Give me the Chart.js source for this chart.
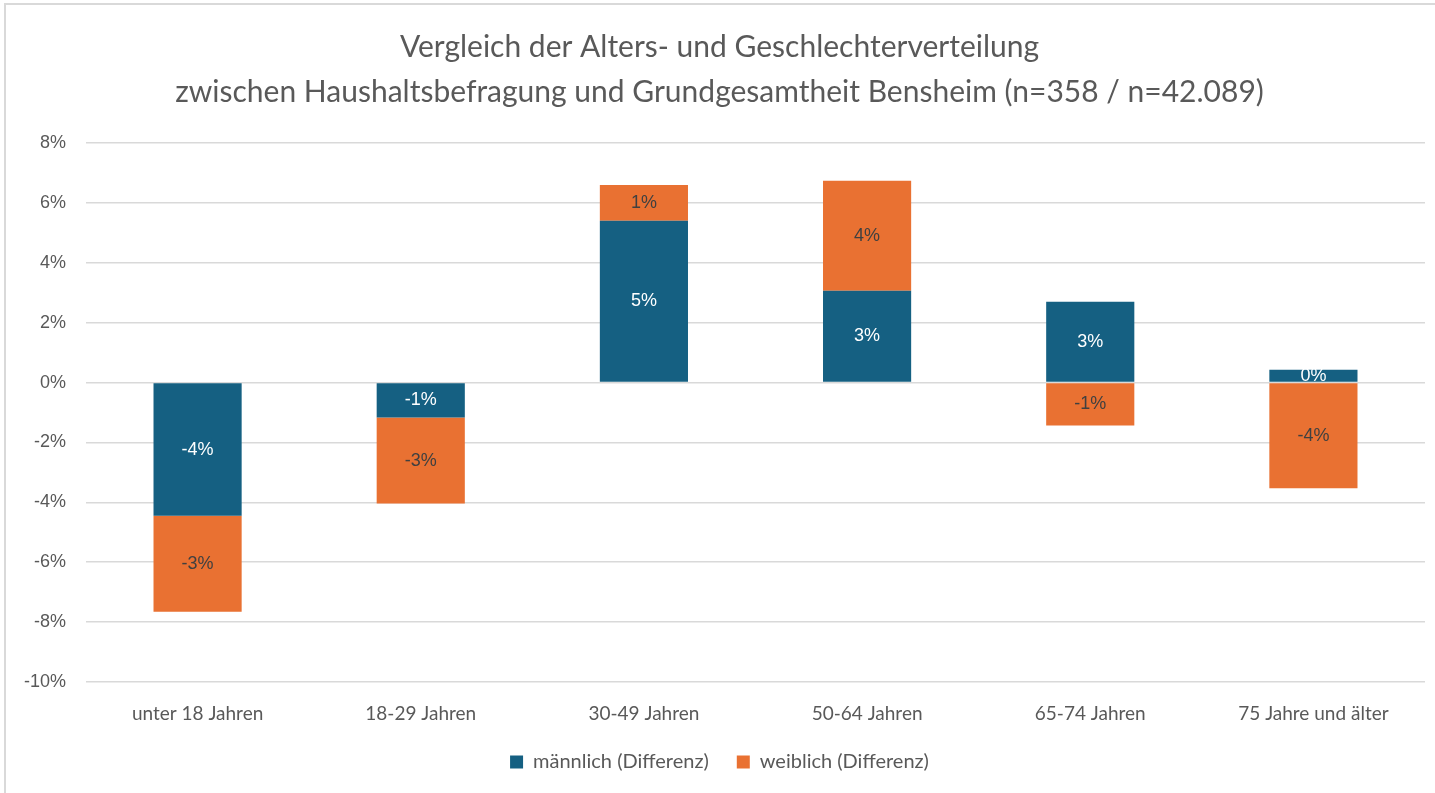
<!DOCTYPE html>
<html>
<head>
<meta charset="utf-8">
<script src="https://cdn.jsdelivr.net/npm/chart.js@4.4.1/dist/chart.umd.min.js"></script>
<style>
  html, body { margin: 0; padding: 0; background: #fff; }
  #wrap { position: relative; width: 1435px; height: 793px; }
  #frame { position: absolute; left: 4px; top: 3px; width: 1440px; height: 800px; border-left: 2px solid #d9d9d9; border-top: 2px solid #d9d9d9; }
  canvas { position: absolute; left: 0; top: 0; }
</style>
</head>
<body>
<div id="wrap">
  <div id="frame"></div>
  <canvas id="chart" width="1435" height="793"></canvas>
</div>
<script>
const categories = ["unter 18 Jahren", "18-29 Jahren", "30-49 Jahren", "50-64 Jahren", "65-74 Jahren", "75 Jahre und älter"];
const maleDiff = [-4.45, -1.17, 5.4, 3.07, 2.7, 0.43];
const femaleDiff = [-3.2, -2.87, 1.2, 3.67, -1.43, -3.53];
const seriesNames = ["männlich (Differenz)", "weiblich (Differenz)"];
const titleLines = ["Vergleich der Alters- und Geschlechterverteilung", "zwischen Haushaltsbefragung und Grundgesamtheit Bensheim (n=358 / n=42.089)"];

const FONT = "Lato, 'Open Sans', sans-serif";
const NUMFONT = "'Liberation Sans', Arial, sans-serif";

// value labels in the middle of each bar segment
const barLabels = {
    id: "barLabels",
    afterDatasetsDraw(chart) {
        const ctx = chart.ctx;
        ctx.save();
        ctx.font = "18px " + NUMFONT;
        ctx.textAlign = "center";
        ctx.textBaseline = "middle";
        chart.data.datasets.forEach((ds, i) => {
            const meta = chart.getDatasetMeta(i);
            ctx.fillStyle = i === 0 ? "#ffffff" : "#404040";
            meta.data.forEach((bar, j) => {
                const v = ds.data[j];
                const yMid = (bar.y + bar.base) / 2;
                ctx.fillText(Math.round(v) + "%", bar.x, yMid);
            });
        });
        ctx.restore();
    }
};

new Chart(document.getElementById("chart"), {
    type: "bar",
    data: {
        labels: categories,
        datasets: [
            { label: seriesNames[0], data: maleDiff, backgroundColor: "#156082" },
            { label: seriesNames[1], data: femaleDiff, backgroundColor: "#E97132" }
        ]
    },
    options: {
        responsive: false,
        animation: false,
        barPercentage: 0.395,
        categoryPercentage: 1,
        layout: { padding: { left: 14, right: 10, top: 0, bottom: 11 } },
        plugins: {
            title: {
                display: true,
                text: titleLines,
                color: "#595959",
                font: { family: FONT, size: 30, weight: "normal", lineHeight: 1.5 },
                padding: { top: 25, bottom: 28 }
            },
            legend: {
                position: "bottom",
                labels: {
                    color: "#595959",
                    font: { family: FONT, size: 20 },
                    boxWidth: 13,
                    boxHeight: 13,
                    padding: 28
                }
            },
            tooltip: { enabled: false }
        },
        scales: {
            x: {
                stacked: true,
                grid: { display: false },
                border: { display: false },
                ticks: { color: "#595959", font: { family: FONT, size: 19 }, padding: 12 },
                afterFit: (s) => { s.height = 42; }
            },
            y: {
                stacked: true,
                min: -10,
                max: 8,
                grid: { color: "#d9d9d9", lineWidth: 1.5, drawTicks: false },
                border: { display: false },
                ticks: {
                    stepSize: 2,
                    color: "#595959",
                    font: { family: NUMFONT, size: 18 },
                    padding: 20,
                    callback: (v) => v + "%"
                },
                afterFit: (s) => { s.width = 72; }
            }
        }
    },
    plugins: [barLabels]
});
</script>
</body>
</html>
